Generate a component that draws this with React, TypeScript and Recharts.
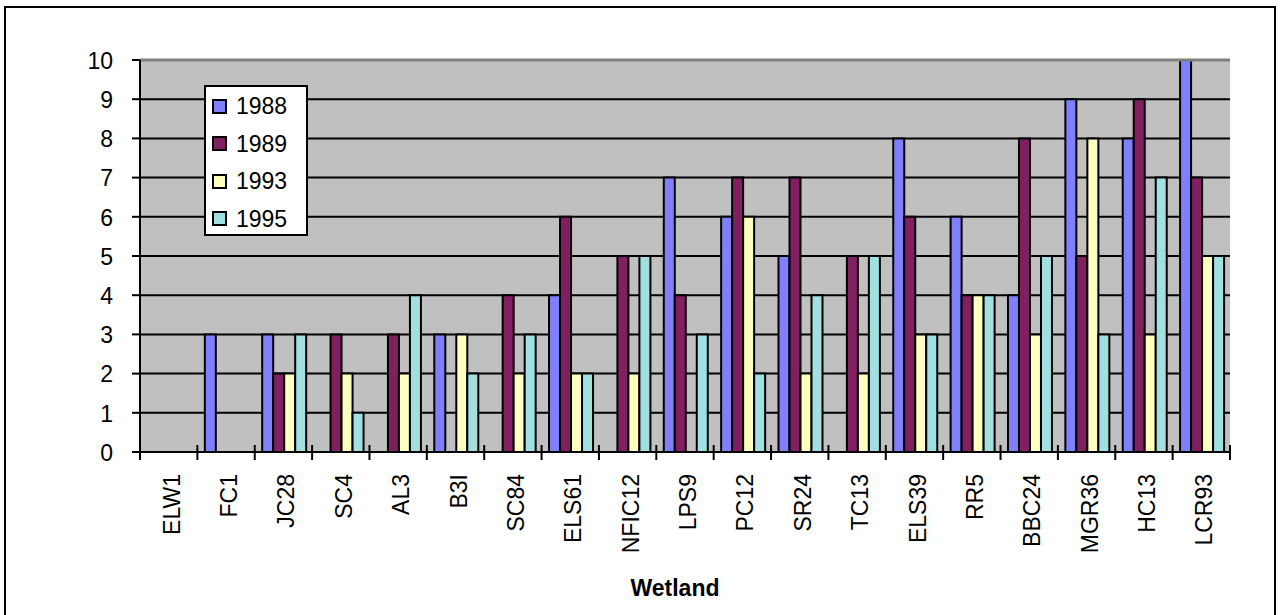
import { BarChart, Bar, XAxis, YAxis, CartesianGrid, Legend, ReferenceLine } from 'recharts'

const FONT = '"Liberation Sans", Arial, sans-serif'
const FS = 23

const WETLANDS = [
  'ELW1', 'FC1', 'JC28', 'SC4', 'AL3', 'B3I', 'SC84', 'ELS61', 'NFIC12', 'LPS9',
  'PC12', 'SR24', 'TC13', 'ELS39', 'RR5', 'BBC24', 'MGR36', 'HC13', 'LCR93',
]
const Y1988 = [0, 3, 3, 0, 0, 3, 0, 4, 0, 7, 6, 5, 0, 8, 6, 4, 9, 8, 10]
const Y1989 = [0, 0, 2, 3, 3, 0, 4, 6, 5, 4, 7, 7, 5, 6, 4, 8, 5, 9, 7]
const Y1993 = [0, 0, 2, 2, 2, 3, 2, 2, 2, 0, 6, 2, 2, 3, 4, 3, 8, 3, 5]
const Y1995 = [0, 0, 3, 1, 4, 2, 3, 2, 5, 3, 2, 4, 5, 3, 4, 5, 3, 7, 5]
const Y_TICKS = [0, 1, 2, 3, 4, 5, 6, 7, 8, 9, 10]
const GRID_VALUES = [1, 2, 3, 4, 5, 6, 7, 8, 9]

const SERIES = [
  { key: 'y1988', name: '1988', color: '#8080FF' },
  { key: 'y1989', name: '1989', color: '#802060' },
  { key: 'y1993', name: '1993', color: '#FFFFC0' },
  { key: 'y1995', name: '1995', color: '#A0E0E0' },
]

const data = WETLANDS.map((wetland, i) => ({
  wetland,
  y1988: Y1988[i],
  y1989: Y1989[i],
  y1993: Y1993[i],
  y1995: Y1995[i],
}))

// category label rotated, plus cross tick marks on the band edges
function WetlandTick(props: any) {
  const { x, y, payload, index } = props
  const half = payload.offset ?? 0
  const edges = [x - half]
  if (index === WETLANDS.length - 1) edges.push(x + half)
  return (
    <g>
      {edges.map((ex) => (
        <line key={ex} x1={ex} x2={ex} y1={y - 7} y2={y + 8} stroke="#000" strokeWidth={2} />
      ))}
      <text
        transform={`translate(${x + 3}, ${y + 22}) rotate(-90)`}
        textAnchor="end"
        dy="0.35em"
        fontSize={FS}
        fontFamily={FONT}
        fill="#000"
      >
        {payload.value}
      </text>
    </g>
  )
}

function YTick(props: any) {
  const { x, y, payload } = props
  return (
    <text x={x} y={y} dy="0.38em" textAnchor="end" fontSize={FS} fontFamily={FONT} fill="#000">
      {payload.value}
    </text>
  )
}

function YearLegend({ payload }: any) {
  return (
    <div
      style={{
        boxSizing: 'border-box',
        width: 104,
        height: 151,
        background: '#fff',
        border: '2px solid #000',
        position: 'relative',
        fontFamily: FONT,
      }}
    >
      {(payload || []).map((p: any, i: number) => {
        const s = SERIES.find((d) => d.name === p.value)
        return (
          <div
            key={p.value}
            style={{
              position: 'absolute',
              left: 6,
              top: 6 + i * 37.6,
              height: 26,
              display: 'flex',
              alignItems: 'center',
            }}
          >
            <span
              style={{
                display: 'inline-block',
                boxSizing: 'border-box',
                width: 15,
                height: 15,
                border: '2px solid #000',
                background: s ? s.color : p.color,
              }}
            />
            <span style={{ marginLeft: 9, fontSize: FS, color: '#000', lineHeight: '26px' }}>{p.value}</span>
          </div>
        )
      })}
    </div>
  )
}

export default function App() {
  return (
    <div style={{ position: 'absolute', left: 0, top: 0, width: 1280, height: 615, background: '#fff', overflow: 'hidden' }}>
      <div
        style={{
          position: 'absolute',
          left: 4,
          top: 6,
          width: 1272,
          height: 640,
          boxSizing: 'border-box',
          border: '2px solid #000',
        }}
      />
      <BarChart
        width={1280}
        height={615}
        data={data}
        margin={{ top: 60, right: 50, bottom: 0, left: 0 }}
        barCategoryGap="13%"
        barGap={0}
        style={{ fontFamily: FONT }}
      >
        <CartesianGrid
          vertical={false}
          horizontalValues={GRID_VALUES}
          stroke="#000"
          strokeWidth={2}
          fill="#C0C0C0"
          fillOpacity={1}
        />
        <XAxis
          dataKey="wetland"
          interval={0}
          height={163}
          tickSize={0}
          tickMargin={0}
          tickLine={false}
          axisLine={{ stroke: '#000', strokeWidth: 2 }}
          tick={<WetlandTick />}
          label={{
            value: 'Wetland',
            position: 'insideBottom',
            offset: 19,
            dx: -10,
            fontSize: FS,
            fontWeight: 'bold',
            fontFamily: FONT,
            fill: '#000',
          }}
        />
        <YAxis
          domain={[0, 10]}
          ticks={Y_TICKS}
          interval={0}
          width={140}
          tickSize={8}
          tickMargin={19}
          axisLine={{ stroke: '#000', strokeWidth: 2 }}
          tickLine={{ stroke: '#000', strokeWidth: 2 }}
          tick={<YTick />}
        />
        <YAxis
          yAxisId="edge"
          orientation="right"
          width={0}
          domain={[0, 10]}
          tick={false}
          tickLine={false}
          axisLine={{ stroke: '#808080', strokeWidth: 3 }}
        />
        <ReferenceLine y={10} stroke="#808080" strokeWidth={3} />
        <Legend
          layout="vertical"
          align="center"
          verticalAlign="middle"
          content={<YearLegend />}
          wrapperStyle={{ position: 'absolute', left: 204, top: 85, width: 104, height: 151 }}
        />
        {SERIES.map((s) => (
          <Bar
            key={s.key}
            dataKey={s.key}
            name={s.name}
            fill={s.color}
            stroke="#000"
            strokeWidth={2}
            isAnimationActive={false}
          />
        ))}
      </BarChart>
    </div>
  )
}
